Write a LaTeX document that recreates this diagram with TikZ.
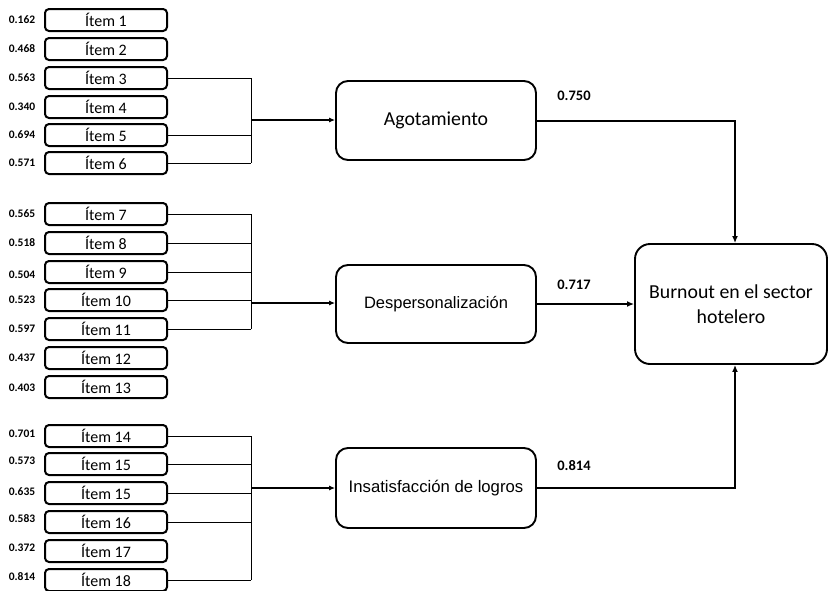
\documentclass[tikz,border=0pt]{standalone}
\usepackage{fontspec}
\setmainfont{Carlito}
\newfontfamily\arialf{Liberation Sans}
\usetikzlibrary{arrows.meta,calc}
\begin{document}
\begin{tikzpicture}[x=1pt,y=-1pt,
  itembox/.style={draw,line width=2pt,rounded corners=4pt,minimum width=122pt,minimum height=22pt,inner sep=0pt,font=\fontsize{16}{18}\selectfont},
  loadnum/.style={font=\bfseries\fontsize{11.5}{13}\selectfont,inner sep=0pt},
  latent/.style={draw,line width=1.9pt,rounded corners=12pt,minimum width=200pt,inner sep=0pt},
  pathnum/.style={font=\bfseries\fontsize{14.5}{16}\selectfont,inner sep=0pt},
  thinline/.style={line width=0.9pt},
  inarrow/.style={line width=1.1pt,-{Latex[length=6pt,width=5pt]}},
  outarrow/.style={line width=2pt,-{Latex[length=7pt,width=6pt]}}]
\useasboundingbox (0,0) rectangle (829,590);
\fill[white] (0,0) rectangle (829,590);
% items
\foreach \i/\y/\t in {1/20/1,2/49/2,3/78/3,4/107/4,5/135/5,6/163/6,7/214/7,8/243/8,9/272/9,10/300/10,11/329/11,12/358/12,13/387/13,14/436/14,15/464/15,16/493/15,17/522/16,18/551/17,19/580/18}
  \node[itembox] (i\i) at (106,\y) {Ítem \t};
% loadings
\foreach \i/\y/\v in {1/20/0.162,2/49/0.468,3/78/0.563,4/107/0.340,5/135/0.694,6/163/0.571,7/214/0.565,8/243/0.518,9/275/0.504,10/300/0.523,11/329/0.597,12/358/0.437,13/388/0.403,14/434/0.701,15/461/0.573,16/492/0.635,17/519/0.583,18/548/0.372,19/577/0.814}
  \node[loadnum] (n\i) at (22,\y) {\v};
% latent boxes
\node[latent,minimum height=79pt,font=\fontsize{19.8}{22}\selectfont] (ago) at (436,120.5) {Agotamiento};
\node[latent,minimum height=78pt,font=\arialf\fontsize{16.5}{19}\selectfont] (des) at (436,304) {Despersonalización};
\node[latent,minimum height=80pt,font=\arialf\fontsize{16.7}{19}\selectfont] (ins) at (436,488) {Insatisfacción de logros};
\node[draw,line width=1.9pt,rounded corners=15pt,minimum width=192pt,minimum height=120pt,align=center,inner sep=0pt,font=\fontsize{19.8}{25}\selectfont] (bur) at (731,304) {Burnout en el sector\\hotelero};
% bracket coordinates
\coordinate (b1) at (251,120);
\coordinate (b2) at (251,303);
\coordinate (b3) at (251,488);
% group 1
\foreach \k in {3,5,6} \draw[thinline] (i\k.east) -- (i\k.east -| b1);
\draw[thinline] (i3.east -| b1) -- (i6.east -| b1);
\draw[inarrow] (b1) -- (b1 -| ago.west);
% group 2
\foreach \k in {7,8,9,10,11} \draw[thinline] (i\k.east) -- (i\k.east -| b2);
\draw[thinline] (i7.east -| b2) -- (i11.east -| b2);
\draw[inarrow] (b2) -- (b2 -| des.west);
% group 3
\foreach \k in {14,15,16,17,19} \draw[thinline] (i\k.east) -- (i\k.east -| b3);
\draw[thinline] (i14.east -| b3) -- (i19.east -| b3);
\draw[inarrow] (b3) -- (b3 -| ins.west);
% to burnout
\coordinate (tx) at (735,0);
\draw[outarrow] (ago.east) -- (ago.east -| tx) -- (tx |- bur.north);
\draw[outarrow] (des.east) -- (des.east -| bur.west);
\draw[outarrow] (ins.east) -- (ins.east -| tx) -- (tx |- bur.south);
\node[pathnum] (p1) at (574,96) {0.750};
\node[pathnum] (p2) at (574,285) {0.717};
\node[pathnum] (p3) at (574,466) {0.814};
\end{tikzpicture}
\end{document}
